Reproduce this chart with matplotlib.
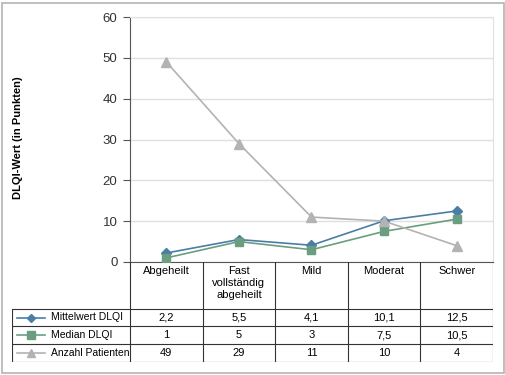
import matplotlib.pyplot as plt
from matplotlib.lines import Line2D
from matplotlib.patches import Rectangle

categories = ["Abgeheilt", "Fast\nvollständig\nabgeheilt", "Mild", "Moderat", "Schwer"]
mittelwert = [2.2, 5.5, 4.1, 10.1, 12.5]
median = [1, 5, 3, 7.5, 10.5]
anzahl = [49, 29, 11, 10, 4]
series_names = ["Mittelwert DLQI", "Median DLQI", "Anzahl Patienten"]
yticks = [0, 10, 20, 30, 40, 50, 60]

plt.rcParams['font.family'] = ['Liberation Sans', 'DejaVu Sans']

W, H = 506, 375
fig = plt.figure(figsize=(W / 100, H / 100), dpi=100)

# outer frame
fig.patches.append(Rectangle((2 / W, 2 / H), 502 / W, 370 / H, transform=fig.transFigure,
                             fill=False, edgecolor='#b4b4b4', lw=1.2))

def px(x0, y0, x1, y1):
    return [x0 / W, 1 - y1 / H, (x1 - x0) / W, (y1 - y0) / H]

styles = [
    dict(color='#4a7ea6', marker='D', ms=5),
    dict(color='#6a9e80', marker='s', ms=6),
    dict(color='#b3b3b3', marker='^', ms=6.5),
]
series = [mittelwert, median, anzahl]

# chart
ax = fig.add_axes(px(130, 17, 493, 262))
xs = list(range(len(categories)))
for vals, st in zip(series, styles):
    ax.plot(xs, vals, color=st['color'], lw=1.2, marker=st['marker'], ms=st['ms'],
            mec=st['color'], mfc=st['color'], zorder=3)
ax.set_xlim(-0.5, 4.5)
ax.set_ylim(0, 60)
ax.set_yticks(yticks)
ax.set_yticklabels([str(t) for t in yticks], fontsize=9.5, color='#333333')
ax.set_xticks([])
ax.yaxis.grid(True, color='#e0e0e0', lw=1)
ax.set_axisbelow(True)
ax.spines['left'].set_color('#555555')
ax.spines['bottom'].set_color('#555555')
ax.spines['top'].set_color('#e0e0e0')
ax.spines['right'].set_color('#e0e0e0')
ax.tick_params(axis='y', length=5, width=0.8, color='#555555', pad=4)
fig.text(18 / W, 1 - 138 / H, "DLQI-Wert (in Punkten)", rotation=90, ha='center', va='center',
         fontsize=8, fontweight='bold')

# table
col_w = (493 - 130) / 5
tx0 = -0.5 - (130 - 12) / col_w
tab = fig.add_axes(px(12, 262, 493, 362))
tab.set_xlim(tx0, 4.5)
tab.set_ylim(362, 262)
tab.axis('off')
row_edges = [262, 309, 326, 344, 362]
lc = '#333333'
for i in range(6):
    tab.plot([i - 0.5, i - 0.5], [262, 362], color=lc, lw=0.8)
for y in row_edges[1:]:
    tab.plot([tx0, 4.5], [y, y], color=lc, lw=0.8)
tab.plot([tx0, tx0], [309, 362], color=lc, lw=0.8)
for i, c in enumerate(categories):
    tab.text(i, 266, c, ha='center', va='top', fontsize=8, linespacing=1.25)
for r, (name, vals, st) in enumerate(zip(series_names, series, styles)):
    yc = (row_edges[r + 1] + row_edges[r + 2]) / 2
    lx0 = tx0 + 5 / col_w
    lx1 = tx0 + 33 / col_w
    tab.add_line(Line2D([lx0, lx1], [yc, yc], color=st['color'], lw=1.2))
    tab.plot([(lx0 + lx1) / 2], [yc], marker=st['marker'], ms=st['ms'] * 0.9,
             color=st['color'])
    tab.text(tx0 + 39 / col_w, yc, name, ha='left', va='center', fontsize=7.5)
    for i, v in enumerate(vals):
        tab.text(i, yc, f"{v:g}".replace('.', ','), ha='center', va='center', fontsize=8)

fig.savefig("out.png", dpi=100)
